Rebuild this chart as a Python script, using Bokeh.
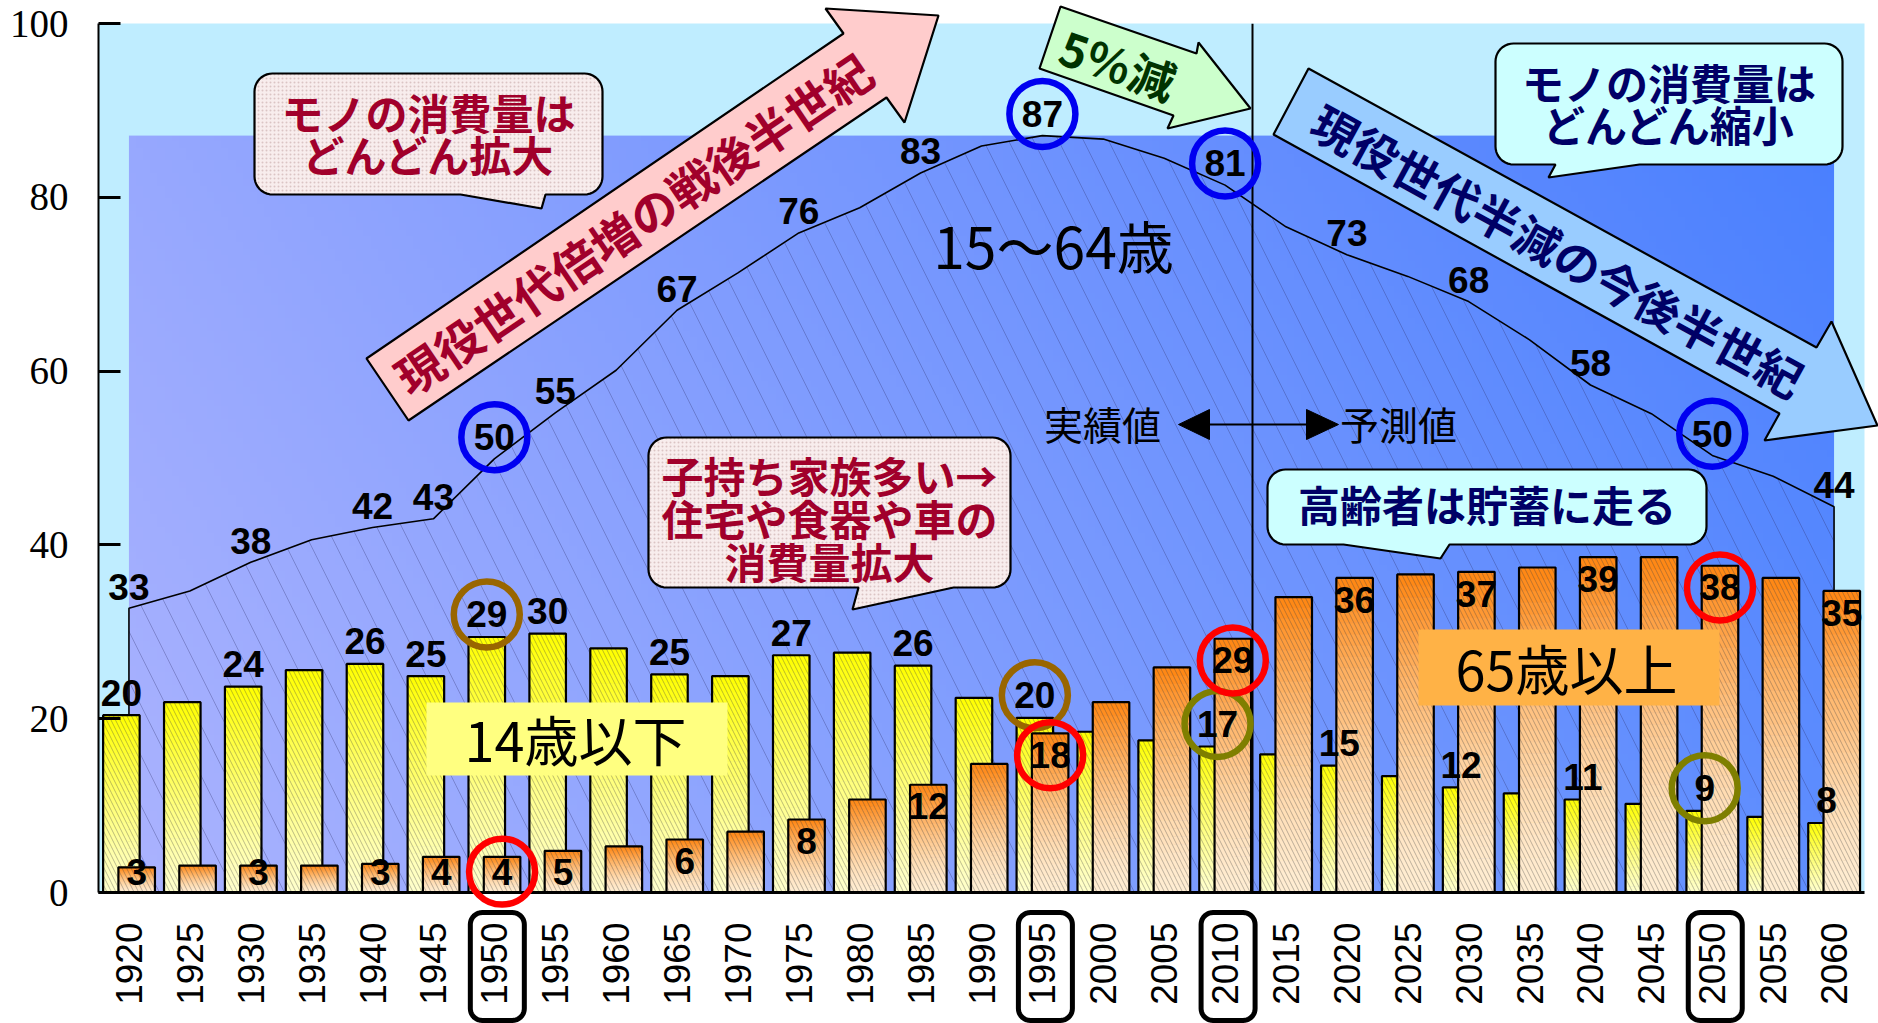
import math
import numpy as np
from bokeh.plotting import figure
from bokeh.models import FixedTicker, Range1d
from bokeh.core.properties import value
from bokeh.embed import file_html
from bokeh.resources import INLINE

# ---- data (population share by age group, %) ----
years = list(range(1920, 2061, 5))
age_0_14 = [20.4, 21.9, 23.7, 25.6, 26.3, 24.9, 29.4, 29.8, 28.1, 25.1,
            24.9, 27.3, 27.6, 26.1, 22.4, 20.1, 18.5, 17.5, 16.8, 15.9,
            14.6, 13.4, 12.1, 11.4, 10.7, 10.2, 9.4, 8.7, 8.0]
age_15_64 = [32.7, 34.7, 38.0, 40.6, 42.0, 43.0, 49.9, 55.2, 60.1, 67.0,
             71.3, 75.9, 78.8, 82.8, 85.9, 87.1, 86.7, 84.5, 81.4, 76.6,
             73.4, 70.9, 68.0, 63.6, 58.4, 55.1, 50.3, 47.9, 44.4]
age_65_over = [2.9, 3.1, 3.1, 3.1, 3.3, 4.1, 4.1, 4.8, 5.3, 6.1,
               7.0, 8.4, 10.7, 12.4, 14.8, 18.3, 21.9, 25.9, 29.2, 34.0,
               36.2, 36.6, 36.9, 37.4, 38.6, 38.6, 37.6, 36.2, 34.7]
labeled_years = [1920, 1930, 1940, 1945, 1950, 1955, 1965, 1975, 1985,
                 1995, 2010, 2020, 2030, 2040, 2050, 2060]
boxed_years = [1950, 1995, 2010, 2050]
working_marked = [1950, 1995, 2010, 2050]
young_marked_brown = [1950, 1995]
young_marked_olive = [2010, 2050]
elderly_marked = [1950, 1995, 2010, 2050]
y_ticks = [0, 20, 40, 60, 80, 100]

label_young = "14歳以下"
label_working = "15〜64歳"
label_elderly = "65歳以上"
note_up = ["モノの消費量は", "どんどん拡大"]
note_down = ["モノの消費量は", "どんどん縮小"]
note_family = ["子持ち家族多い→", "住宅や食器や車の", "消費量拡大"]
note_saving = ["高齢者は貯蓄に走る"]
arrow_up_text = "現役世代倍増の戦後半世紀"
arrow_down_text = "現役世代半減の今後半世紀"
arrow_peak_text = "5％減"
past_text, future_text = "実績値", "予測値"

# ---- canvas / frame geometry (pixels) ----
W, H = 1878, 1023
FL, FR, FT, FB = 98, 1864, 23, 892
N = len(years)
X_LO, X_HI = -0.5, N - 0.5
Y_LO, Y_HI = 0, 100

JP = value("Noto Sans CJK JP")
NUM = value("Liberation Sans")


def gx(px):
    return X_LO + (px - FL) * (X_HI - X_LO) / (FR - FL)


def gy(py):
    return Y_LO + (FB - py) * (Y_HI - Y_LO) / (FB - FT)


def to_data(seq):
    return [gx(a) for a, _ in seq], [gy(b) for _, b in seq]


def rounded(x0, y0, x1, y1, r, tail=None, n=10):
    out = []

    def arc(cx, cy, a0, a1):
        for k in range(n + 1):
            a = math.radians(a0 + (a1 - a0) * k / n)
            out.append((cx + r * math.cos(a), cy + r * math.sin(a)))

    arc(x1 - r, y0 + r, -90, 0)
    arc(x1 - r, y1 - r, 0, 90)
    if tail:
        out.extend(tail)
    arc(x0 + r, y1 - r, 90, 180)
    arc(x0 + r, y0 + r, 180, 270)
    return out


def hex_rgb(h):
    h = h.lstrip("#")
    return np.array([int(h[i:i + 2], 16) for i in (0, 2, 4)], dtype=float)


def mix(c0, c1, f):
    c = c0 + (c1 - c0) * f
    return "#%02x%02x%02x" % tuple(int(round(v)) for v in c)


p = figure(width=W, height=H, x_range=Range1d(X_LO, X_HI), y_range=Range1d(Y_LO, Y_HI),
           output_backend="svg", toolbar_location=None,
           min_border_left=FL, min_border_right=W - FR,
           min_border_top=FT, min_border_bottom=H - FB)
p.background_fill_color = "#BFEDFF"
p.border_fill_color = "white"
p.outline_line_color = None
p.xgrid.visible = False
p.ygrid.visible = False

# axes
p.yaxis.ticker = FixedTicker(ticks=y_ticks)
p.yaxis.major_label_text_font = "Liberation Serif"
p.yaxis.major_label_text_font_size = "39px"
p.yaxis.major_label_text_color = "black"
p.yaxis.major_label_standoff = 30
p.yaxis.major_tick_in = 22
p.yaxis.major_tick_out = 0
p.yaxis.major_tick_line_width = 3
p.yaxis.minor_tick_line_color = None
p.yaxis.axis_line_width = 2

p.xaxis.ticker = FixedTicker(ticks=list(range(N)))
p.xaxis.major_label_overrides = {i: str(y) for i, y in enumerate(years)}
p.xaxis.major_label_orientation = math.pi / 2
p.xaxis.major_label_text_font = "Liberation Sans"
p.xaxis.major_label_text_font_size = "37px"
p.xaxis.major_label_text_color = "black"
p.xaxis.major_label_standoff = 30
p.xaxis.major_tick_in = 0
p.xaxis.major_tick_out = 0
p.xaxis.minor_tick_line_color = None
p.xaxis.axis_line_width = 3

# ---- 15-64 band: gradient backdrop, hatched area, outline ----
top_area = max(age_15_64)
gw, gh = 240, 120
u = np.linspace(0, 1, gw)[None, :]
v = np.linspace(0, 1, gh)[:, None]
c_tl, c_tr = hex_rgb("#97A8FE"), hex_rgb("#4A80FF")
c_bl, c_br = hex_rgb("#ABB3FF"), hex_rgb("#5F8EFF")
img = np.empty((gh, gw), dtype=np.uint32)
view = img.view(dtype=np.uint8).reshape((gh, gw, 4))
for ch in range(3):
    view[:, :, ch] = (c_bl[ch] * (1 - u) * (1 - v) + c_br[ch] * u * (1 - v)
                      + c_tl[ch] * (1 - u) * v + c_tr[ch] * u * v).astype(np.uint8)
view[:, :, 3] = 255
p.image_rgba(image=[img], x=0, y=0, dw=N - 1, dh=top_area)

xs_area = [0] + list(range(N)) + [N - 1]
ys_area = [0] + age_15_64 + [0]
p.patch(xs_area, ys_area, fill_color=None, line_color=None,
        hatch_pattern="left_diagonal_line", hatch_color="#2A2A66",
        hatch_alpha=0.3, hatch_scale=50, hatch_weight=1)
p.line(xs_area, ys_area, line_color="black", line_width=1.6)

# ---- bars with vertical gradients ----
BW = 0.6
young_x = [i - 0.124 for i in range(N)]
old_x = [i + 0.127 for i in range(N)]


def gradient_bars(xc, vals, c_bottom, c_top, gamma, k=28):
    L, R, B, T, C = [], [], [], [], []
    cb, ct = hex_rgb(c_bottom), hex_rgb(c_top)
    for x, val in zip(xc, vals):
        for j in range(k):
            L.append(x - BW / 2)
            R.append(x + BW / 2)
            B.append(val * j / k)
            T.append(val * (j + 1) / k)
            C.append(mix(cb, ct, ((j + 0.5) / k) ** gamma))
    p.quad(left=L, right=R, bottom=B, top=T, fill_color=C, line_color=C, line_width=0.8)
    p.vbar(x=xc, width=BW, top=vals, bottom=0, fill_color=None,
           line_color="black", line_width=2.2,
           hatch_pattern="left_diagonal_line", hatch_color="#404040",
           hatch_alpha=0.35, hatch_scale=9, hatch_weight=1)


gradient_bars(young_x, age_0_14, "#FFFFCC", "#FFFF00", 1.2)
gradient_bars(old_x, age_65_over, "#FFEDD2", "#FF8510", 1.5)

# ---- group name boxes ----
p.quad(left=gx(426), right=gx(727), bottom=gy(775), top=gy(702),
       fill_color="#FFFF80", line_color=None)
p.text(x=[gx(575)], y=[gy(738)], text=[label_young], text_font=JP,
       text_font_size="54px", text_align="center", text_baseline="middle", text_color="black")
p.quad(left=gx(1418), right=gx(1719), bottom=gy(705), top=gy(629),
       fill_color="#FFB246", line_color=None)
p.text(x=[gx(1566)], y=[gy(667)], text=[label_elderly], text_font=JP,
       text_font_size="54px", text_align="center", text_baseline="middle", text_color="black")
p.text(x=[gx(1053)], y=[gy(243)], text=[label_working], text_font=JP,
       text_font_size="57px", text_align="center", text_baseline="middle", text_color="black")

# actual / projection divider
div_x = gx(1252)
p.line([div_x, div_x], [Y_LO, Y_HI], line_color="black", line_width=2)
p.line([gx(1205), gx(1308)], [gy(424), gy(424)], line_color="black", line_width=2)
lx, ly = to_data([(1178, 424), (1209, 409), (1209, 439)])
p.patch(lx, ly, fill_color="black", line_color="black")
rx, ry = to_data([(1338, 424), (1306, 409), (1306, 439)])
p.patch(rx, ry, fill_color="black", line_color="black")
p.text(x=[gx(1102)], y=[gy(422)], text=[past_text], text_font=JP, text_font_size="39px",
       text_align="center", text_baseline="middle", text_color="black")
p.text(x=[gx(1398)], y=[gy(422)], text=[future_text], text_font=JP, text_font_size="39px",
       text_align="center", text_baseline="middle", text_color="black")

# ---- value labels ----
LINE_DY, YOUNG_DY, OLD_DY, OLD_MIN = 2.5, 2.6, 2.5, 2.4
idx = [years.index(y) for y in labeled_years]


def line_pos(i):
    return i, age_15_64[i] + LINE_DY


def young_pos(i):
    return young_x[i], age_0_14[i] + YOUNG_DY


def old_pos(i):
    return old_x[i], max(age_65_over[i] - OLD_DY, OLD_MIN)


for pos, vals in ((line_pos, age_15_64), (young_pos, age_0_14), (old_pos, age_65_over)):
    xs = [pos(i)[0] for i in idx]
    ys = [pos(i)[1] for i in idx]
    p.text(x=xs, y=ys, text=[str(int(round(vals[i]))) for i in idx], text_font=NUM,
           text_font_style="bold", text_font_size="37px", text_align="center",
           text_baseline="middle", text_color="black")

# ring markers
for marked, pos, color in ((working_marked, line_pos, "#0000F0"),
                           (young_marked_brown, young_pos, "#996600"),
                           (young_marked_olive, young_pos, "#7F7F00"),
                           (elderly_marked, old_pos, "#FF0000")):
    ii = [years.index(y) for y in marked]
    r = p.scatter(x=[pos(i)[0] for i in ii], y=[pos(i)[1] for i in ii], marker="circle",
                  size=66, fill_color=None, line_color=color, line_width=6.5)
    r.level = "annotation"


# ---- callouts ----
def bubble(box, tail, fill, lines, color, line_ys, dots):
    xs, ys = to_data(rounded(*box, 18, tail))
    extra = dict(hatch_pattern="dot", hatch_color="#C8A8A8", hatch_alpha=0.6,
                 hatch_scale=4) if dots else {}
    r = p.patch(xs, ys, fill_color=fill, line_color="black", line_width=2.2, **extra)
    r.level = "annotation"
    cx = (box[0] + box[2]) / 2
    for t, ly in zip(lines, line_ys):
        tr = p.text(x=[gx(cx)], y=[gy(ly)], text=[t], text_font=JP, text_font_style="bold",
                    text_font_size="42px", text_align="center", text_baseline="middle",
                    text_color=color)
        tr.level = "annotation"


bubble((254, 73, 602, 194), [(545, 194), (541, 208), (460, 194)], "#F8EDED",
       note_up, "#A1002B", [111, 153], True)
bubble((1495, 43, 1842, 164), [(1639, 164), (1548, 177), (1555, 164)], "#CCFFFF",
       note_down, "#000066", [81, 123], False)
bubble((648, 437, 1010, 587), [(953, 587), (852, 609), (858, 587)], "#F8EDED",
       note_family, "#A1002B", [474, 517, 560], True)
bubble((1267, 469, 1706, 544), [(1449, 544), (1440, 558), (1343, 544)], "#CCFFFF",
       note_saving, "#000066", [503], False)


def block_arrow(poly, fill, text, center, angle_deg, color, size):
    xs, ys = to_data(poly)
    r = p.patch(xs, ys, fill_color=fill, line_color="black", line_width=2.2)
    r.level = "annotation"
    tr = p.text(x=[gx(center[0])], y=[gy(center[1])], text=[text], text_font=JP,
                text_font_style="bold", text_font_size=size, angle=math.radians(angle_deg),
                text_align="center", text_baseline="middle", text_color=color)
    tr.level = "annotation"


block_arrow([(366, 358), (843, 33), (825, 8), (938, 15), (904, 122), (886, 97), (408, 420)],
            "#FFCCCC", arrow_up_text, (632, 222), 34.2, "#A1002B", "47px")
block_arrow([(1060, 6), (1196, 53), (1198, 42), (1250, 108), (1167, 128), (1173, 115), (1039, 68)],
            "#CCFFCC", arrow_peak_text, (1118, 63), -19.1, "#003300", "46px")
block_arrow([(1308, 68), (1816, 347), (1831, 321), (1877, 425), (1764, 440), (1779, 413), (1273, 134)],
            "#99CCFF", arrow_down_text, (1558, 249), -28.7, "#000066", "46px")

# frames round highlighted year ticks
for y in boxed_years:
    i = years.index(y)
    cx = FL + (i + 0.5) * (FR - FL) / N + 3
    bx, by = to_data(rounded(cx - 27, 912, cx + 27, 1020, 12))
    r = p.patch(bx, by, fill_color=None, line_color="black", line_width=5)
    r.level = "annotation"

open("out.html", "w").write(file_html(p, INLINE, title="年齢3区分別人口割合の推移"))
